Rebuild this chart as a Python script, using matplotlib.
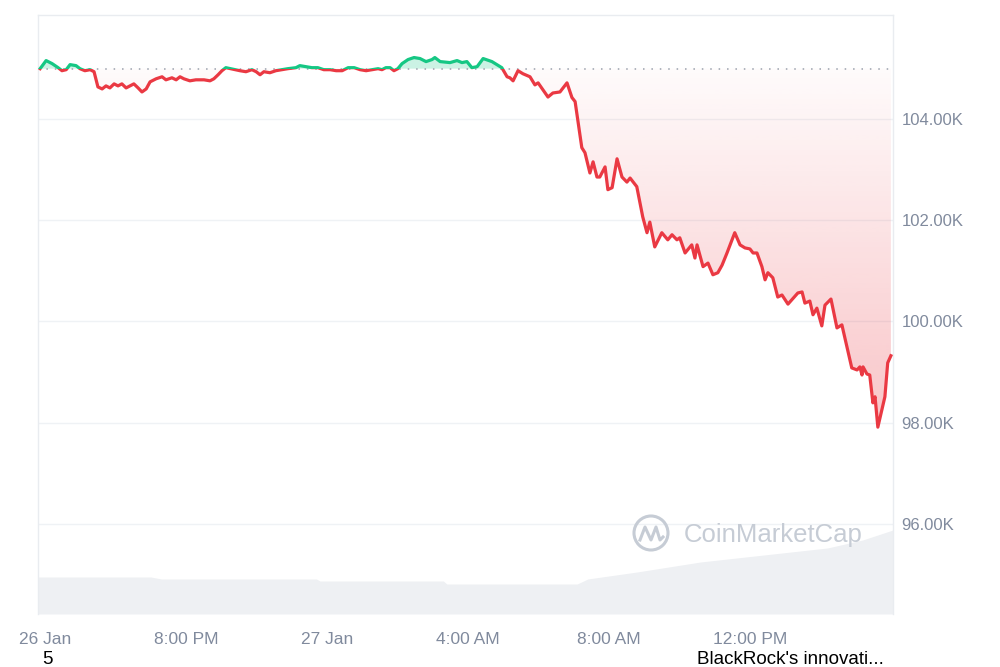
import numpy as np
import matplotlib
matplotlib.use("Agg")
import matplotlib.pyplot as plt
from matplotlib.patches import Rectangle, Ellipse
from matplotlib.lines import Line2D
from matplotlib.path import Path

plt.rcParams['font.family'] = ['Liberation Sans', 'DejaVu Sans']

# hours after the "26 Jan" tick, price in thousands of USD
hours = [-0.14, 0.03, 0.20, 0.37, 0.48, 0.60, 0.71, 0.88, 0.99, 1.13, 1.28, 1.39,
         1.50, 1.62, 1.73, 1.84, 1.96, 2.07, 2.18, 2.30, 2.41, 2.52, 2.64, 2.75,
         2.87, 2.98, 3.15, 3.32, 3.43, 3.60, 3.72, 3.83, 3.94, 4.11, 4.28, 4.51,
         4.68, 4.79, 4.91, 5.02, 5.13, 5.53, 5.70, 5.87, 5.99, 6.10, 6.21, 6.38,
         6.55, 6.72, 6.89, 7.12, 7.23, 7.40, 7.57, 7.74, 7.91, 8.09, 8.26, 8.43,
         8.60, 8.77, 8.94, 9.11, 9.28, 9.45, 9.56, 9.67, 9.79, 9.90, 10.01, 10.13,
         10.30, 10.47, 10.64, 10.81, 10.98, 11.06, 11.21, 11.49, 11.69, 11.83, 11.97,
         12.11, 12.26, 12.43, 12.68, 12.82, 12.96, 13.11, 13.19, 13.28, 13.42, 13.56,
         13.76, 13.90, 13.99, 14.27, 14.41, 14.61, 14.81, 14.95, 15.04, 15.23, 15.32,
         15.46, 15.55, 15.66, 15.74, 15.89, 15.97, 16.09, 16.23, 16.37, 16.51, 16.60,
         16.79, 16.96, 17.08, 17.16, 17.30, 17.50, 17.67, 17.79, 17.93, 18.01, 18.16,
         18.35, 18.44, 18.50, 18.67, 18.81, 18.95, 19.09, 19.21, 19.35, 19.57, 19.72,
         19.86, 20.00, 20.09, 20.20, 20.34, 20.43, 20.51, 20.65, 20.79, 20.91, 21.08,
         21.36, 21.48, 21.56, 21.70, 21.79, 21.90, 22.04, 22.13, 22.30, 22.47, 22.61,
         22.89, 23.04, 23.12, 23.18, 23.21, 23.32, 23.40, 23.49, 23.55, 23.63, 23.83,
         23.91, 24.00]
price = [104.99, 105.15, 105.09, 105.01, 104.95, 104.97, 105.07, 105.05, 104.99, 104.95, 104.97, 104.93,
         104.63, 104.59, 104.65, 104.61, 104.69, 104.65, 104.69, 104.61, 104.65, 104.69, 104.61, 104.53,
         104.59, 104.73, 104.79, 104.83, 104.77, 104.81, 104.77, 104.83, 104.79, 104.75, 104.77, 104.77,
         104.75, 104.79, 104.87, 104.95, 105.01, 104.95, 104.93, 104.97, 104.93, 104.87, 104.93, 104.91,
         104.95, 104.97, 104.99, 105.01, 105.05, 105.03, 105.01, 105.01, 104.97, 104.97, 104.95, 104.95,
         105.01, 105.01, 104.97, 104.95, 104.97, 104.99, 104.97, 105.01, 105.01, 104.95, 104.99, 105.09,
         105.17, 105.21, 105.19, 105.13, 105.17, 105.21, 105.13, 105.11, 105.15, 105.11, 105.13,
         105.01, 105.03, 105.19, 105.13, 105.07, 105.01, 104.83, 104.81, 104.75, 104.95, 104.89,
         104.83, 104.67, 104.71, 104.43, 104.51, 104.53, 104.71, 104.42, 104.34, 103.43, 103.33,
         102.93, 103.15, 102.85, 102.85, 103.05, 102.60, 102.64, 103.21, 102.85, 102.75, 102.83,
         102.66, 102.06, 101.75, 101.96, 101.47, 101.75, 101.61, 101.71, 101.61, 101.65, 101.35,
         101.51, 101.25, 101.51, 101.08, 101.15, 100.92, 100.96, 101.11, 101.35, 101.75, 101.51,
         101.45, 101.43, 101.35, 101.35, 101.08, 100.82, 100.96, 100.86, 100.48, 100.52, 100.34,
         100.56, 100.58, 100.36, 100.40, 100.13, 100.26, 99.91, 100.32, 100.44, 99.87, 99.93,
         99.08, 99.04, 99.10, 98.94, 99.10, 98.96, 98.94, 98.39, 98.51, 97.91, 98.51,
         99.18, 99.32]
open_price = 104.99

vol_hours = [-0.2, 3.0, 3.3, 7.7, 7.8, 11.3, 11.4, 15.1, 15.4, 16.8, 18.6, 20.4, 22.2, 23.2, 24.06]
volume = [37, 37, 35, 35, 33, 33, 30, 30, 35, 42, 52, 59, 66, 74, 84]

tick_hours = [0, 4, 8, 12, 16, 20]
tick_labels = ['26 Jan', '8:00 PM', '27 Jan', '4:00 AM', '8:00 AM', '12:00 PM']
price_ticks = [96, 98, 100, 102, 104]

red = '#ea3943'
green = '#16c784'
grid_c = '#eff2f5'
label_c = '#808a9d'

x = np.array(hours)
y = np.array(price)
xlim = (-0.2, 24.06)
ylim = (94.22, 106.05)

fig = plt.figure(figsize=(10, 6.67), dpi=100)
rect = [0.038, 0.0795, 0.855, 0.898]

# volume in the background
axv = fig.add_axes(rect, zorder=0)
axv.fill_between(vol_hours, 0, volume, color='#eef0f3', lw=0)
axv.set_xlim(*xlim)
axv.set_ylim(0, 599)
axv.axis('off')

ax = fig.add_axes(rect, zorder=1)
ax.patch.set_visible(False)

for v in price_ticks:
    ax.axhline(v, color=grid_c, lw=1, zorder=0)

above = Rectangle((xlim[0], open_price), xlim[1] - xlim[0], ylim[1] - open_price,
                  transform=ax.transData, visible=False)
below = Rectangle((xlim[0], ylim[0]), xlim[1] - xlim[0], open_price - ylim[0],
                  transform=ax.transData, visible=False)
ax.add_patch(above)
ax.add_patch(below)

ax.fill_between(x, open_price, y, where=y >= open_price, interpolate=True,
                color=green, alpha=0.22, lw=0, zorder=1)

# red gradient under the open price
poly = ax.fill_between(x, open_price, y, where=y <= open_price, interpolate=True,
                       color='none', lw=0)
clip = Path.make_compound_path(*poly.get_paths())
grad = np.linspace(0, 1, 256).reshape(-1, 1)
rgba = np.zeros((256, 1, 4))
rgba[..., :3] = matplotlib.colors.to_rgb(red)
rgba[..., 3] = 0.02 + 0.29 * grad
img = ax.imshow(rgba, extent=[xlim[0], xlim[1], 97.5, open_price], origin='upper',
                aspect='auto', zorder=1, interpolation='bilinear')
img.set_clip_path(clip, transform=ax.transData)

ax.axhline(open_price, color='#9aa1ad', lw=1.1, ls=(0, (1, 4.5)), zorder=2)

l1, = ax.plot(x, y, color=red, lw=2.3, zorder=3, solid_joinstyle='round')
l1.set_clip_path(below)
l2, = ax.plot(x, y, color=green, lw=2.3, zorder=3, solid_joinstyle='round')
l2.set_clip_path(above)

ax.set_xlim(*xlim)
ax.set_ylim(*ylim)

for side in ['top', 'left', 'right']:
    ax.spines[side].set_color('#e9ecf0')
    ax.spines[side].set_linewidth(1)
ax.spines['bottom'].set_visible(False)

ax.yaxis.tick_right()
ax.set_yticks(price_ticks)
ax.set_yticklabels([f'{v:.2f}K' for v in price_ticks])
ax.set_xticks(tick_hours)
ax.set_xticklabels(tick_labels)
ax.tick_params(axis='y', length=0, pad=6, labelsize=12, labelcolor=label_c)
ax.tick_params(axis='x', length=0, pad=13, labelsize=12.5, labelcolor=label_c)

# watermark
wm = '#c6ccd5'
fig.text(0.684, 1 - 535 / 667, 'CoinMarketCap', fontsize=18.5, color=wm,
         ha='left', va='center', zorder=5)
fig.patches.append(Ellipse((0.651, 1 - 533 / 667), 0.034, 0.034 * 1000 / 667,
                           transform=fig.transFigure, fill=False, ec=wm, lw=2.2))
mx = [0.640, 0.645, 0.651, 0.656, 0.660, 0.663]
my = [540, 527, 540, 527, 540, 537]
fig.lines.append(Line2D(mx, [1 - v / 667 for v in my], transform=fig.transFigure,
                        color=wm, lw=2.2, solid_joinstyle='round'))

fig.text(0.047, 1 - 660 / 667, '5', fontsize=13.5, color='black', ha='center', va='center')
fig.text(0.697, 1 - 660 / 667, "BlackRock's innovati...", fontsize=13.5, color='black',
         ha='left', va='center')

fig.savefig('out.png', dpi=100, facecolor='white')
